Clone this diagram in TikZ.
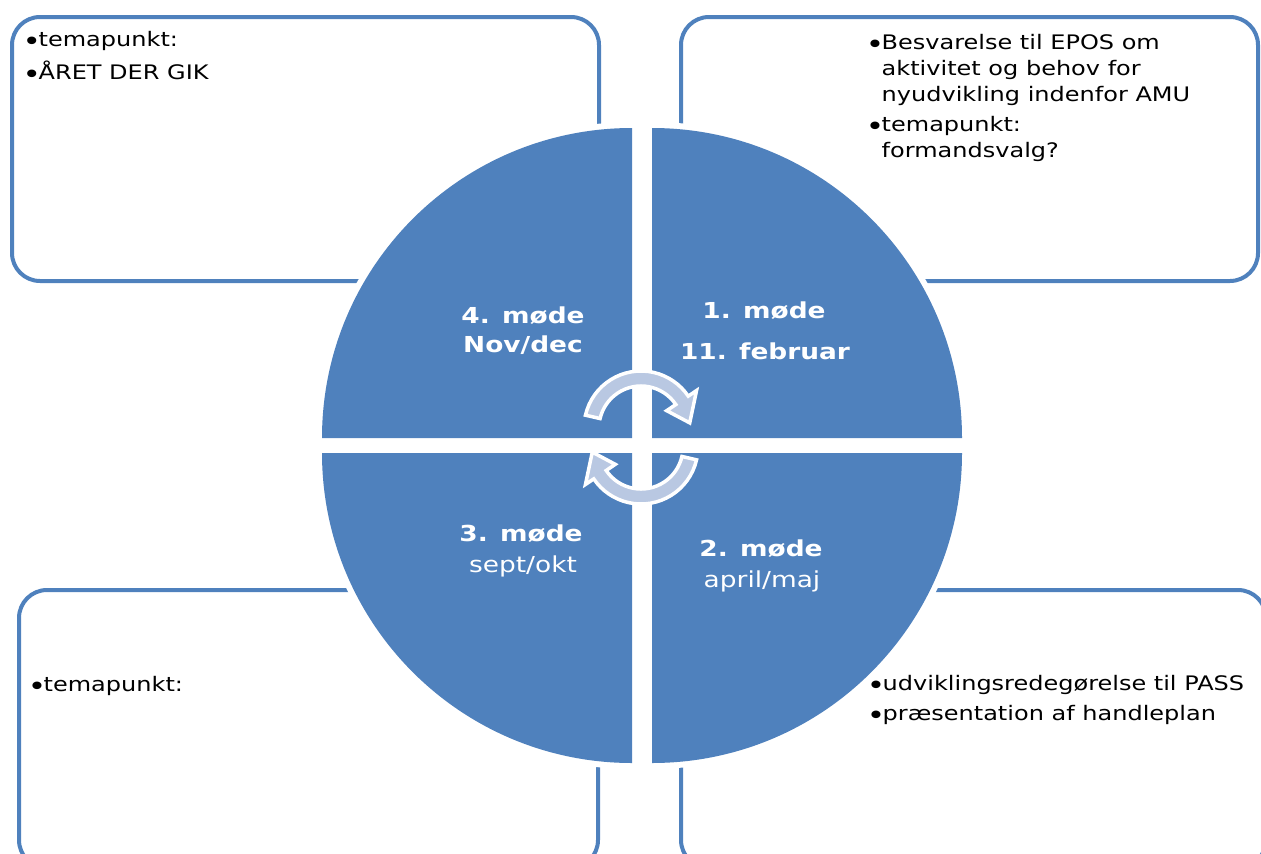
\documentclass[tikz,border=0pt]{standalone}
\usepackage{graphicx}
\usepackage{fontspec}
\setmainfont[FakeStretch=1.2]{DejaVu Sans}
\definecolor{qblue}{RGB}{79,129,189}
\definecolor{arrfill}{RGB}{185,200,226}
\newcommand{\bulmark}{\makebox[13.5pt][c]{\raisebox{-4.3pt}{\scalebox{1.3}{•}}}}
\begin{document}
\begin{tikzpicture}[x=1pt,y=1pt,
  box/.style={draw=qblue,line width=4pt,rounded corners=28pt},
  halo/.style={fill=white},
  quad/.style={fill=qblue},
  btxt/.style={anchor=base west,inner sep=0pt,font=\fontsize{20}{24}\selectfont,text=black},
  lab/.style={anchor=base,inner sep=0pt,text=white,font=\fontsize{22}{26}\selectfont\bfseries},
  labr/.style={anchor=base,inner sep=0pt,text=white,font=\fontsize{22}{26}\selectfont},
  cyc/.style={fill=arrfill,draw=white,line width=3.5pt,line join=miter}]
\useasboundingbox (0,0) rectangle (1261,-854);

% boxes
\draw[box] (12,-17) rectangle (599,-281);
\draw[box] (681,-17) rectangle (1258,-281);
\draw[box] (19,-590) rectangle (598,-868);
\draw[box] (681,-590) rectangle (1266,-868);

% white halos
\fill[halo] (632,-438) -- (316,-438) arc[start angle=180,end angle=90,radius=316pt] -- cycle;
\fill[halo] (652,-438) -- (652,-122) arc[start angle=90,end angle=0,radius=316pt] -- cycle;
\fill[halo] (632,-453) -- (316,-453) arc[start angle=180,end angle=270,radius=316pt] -- cycle;
\fill[halo] (652,-453) -- (968,-453) arc[start angle=0,end angle=-90,radius=316pt] -- cycle;

% quadrants
\fill[quad] (632,-438) -- (322,-438) arc[start angle=180,end angle=90,radius=310pt] -- cycle;
\fill[quad] (652,-438) -- (652,-128) arc[start angle=90,end angle=0,radius=310pt] -- cycle;
\fill[quad] (632,-453) -- (322,-453) arc[start angle=180,end angle=270,radius=310pt] -- cycle;
\fill[quad] (652,-453) -- (962,-453) arc[start angle=0,end angle=-90,radius=310pt] -- cycle;

% cycle arrows
\begin{scope}[shift={(641,-428)}]
\draw[cyc] (167:57pt) arc[start angle=167,end angle=34,radius=57pt] -- (34:67pt) -- (6:49pt) -- (34:31pt) -- (34:42pt) arc[start angle=34,end angle=167,radius=42pt] -- cycle;
\end{scope}
\begin{scope}[shift={(641,-447)},rotate=180]
\draw[cyc] (167:57pt) arc[start angle=167,end angle=34,radius=57pt] -- (34:67pt) -- (6:49pt) -- (34:31pt) -- (34:42pt) arc[start angle=34,end angle=167,radius=42pt] -- cycle;
\end{scope}

% circle labels
\node[lab] (q4a) at (523,-323) {4. møde};
\node[lab] (q4b) at (523,-352) {Nov/dec};
\node[lab] (q1a) at (764,-318) {1. møde};
\node[lab] (q1b) at (765,-359) {11. februar};
\node[lab] (q3a) at (521,-541) {3. møde};
\node[labr] (q3b) at (523,-572) {sept/okt};
\node[lab] (q2a) at (761,-556) {2. møde};
\node[labr] (q2b) at (762,-587) {april/maj};

% box texts
\node[btxt] (tl1) at (25,-46) {\bulmark temapunkt:};
\node[btxt] (tl2) at (25,-79) {\bulmark ÅRET DER GIK};
\node[btxt] (tr1) at (868,-49) {\bulmark Besvarelse til EPOS om};
\node[btxt] (tr2) at (881.5,-75) {aktivitet og behov for};
\node[btxt] (tr3) at (881.5,-101) {nyudvikling indenfor AMU};
\node[btxt] (tr4) at (868,-131) {\bulmark temapunkt:};
\node[btxt] (tr5) at (881.5,-157) {formandsvalg?};
\node[btxt] (bl1) at (30,-691) {\bulmark temapunkt:};
\node[btxt] (br1) at (869,-690) {\bulmark udviklingsredegørelse til PASS};
\node[btxt] (br2) at (869,-720) {\bulmark præsentation af handleplan};
\end{tikzpicture}
\end{document}
